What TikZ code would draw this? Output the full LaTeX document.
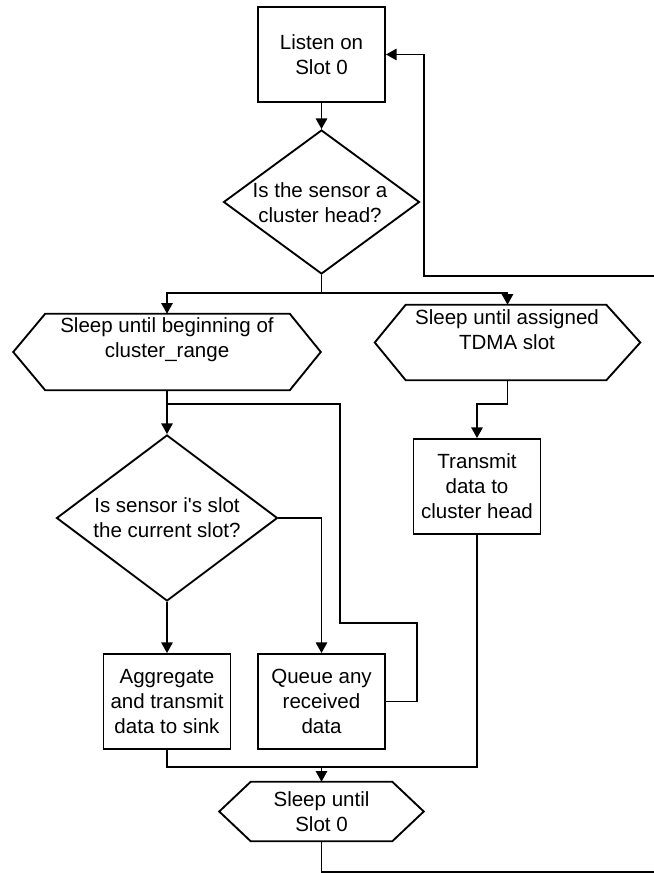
\documentclass[tikz,border=0pt]{standalone}
\usepackage{fontspec}
\setmainfont{Liberation Sans}[Ligatures=TeXOff]
\usetikzlibrary{shapes.geometric,arrows.meta,calc}
\begin{document}
\begin{tikzpicture}[x=0.75pt,y=-0.75pt,
  line/.style={line width=1.4pt},
  arr/.style={line width=1.4pt, -{Triangle[length=8pt,width=8.5pt]}},
  txt/.style={align=center, inner sep=0pt, font=\fontsize{15.4}{18.8}\selectfont},
  proc/.style={txt, draw, line width=1.4pt, rectangle, minimum width=127*0.75pt, minimum height=95*0.75pt},
  dec/.style={draw, line width=1.4pt, diamond, inner sep=0pt},
  hexbox/.style={rectangle, inner sep=0pt},
]
\useasboundingbox (0,0) rectangle (653,873);

% process boxes
\node[proc] (listen) at (321.5,54.5) {Listen on\\Slot 0};
\node[proc] (tx) at (477,486.5) {Transmit\\data to\\cluster head};
\node[proc] (agg) at (167,701.5) {Aggregate\\and transmit\\data to sink};
\node[proc] (queue) at (321.5,701.5) {Queue any\\received\\data};

% decisions
\node[dec, minimum width=196*0.75pt, minimum height=144*0.75pt] (d1) at (321.5,202) {};
\node[txt] (d1t) at (320,202.5) {Is the sensor a\\cluster head?};
\node[dec, minimum width=221*0.75pt, minimum height=166*0.75pt] (d2) at (167,518) {};
\node[txt] (d2t) at (167,518) {Is sensor i's slot\\the current slot?};

% hexagons
\node[hexbox, minimum width=307*0.75pt, minimum height=76*0.75pt] (hL) at (167,352) {};
\draw[line] (hL.west) -- ($(hL.north west)+(32,0)$) -- ($(hL.north east)+(-31,0)$) -- (hL.east)
  -- ($(hL.south east)+(-31,0)$) -- ($(hL.south west)+(32,0)$) -- cycle;
\node[txt] (hLt) at (167,339.5) {Sleep until beginning of\\cluster\_range};

\node[hexbox, minimum width=265*0.75pt, minimum height=75*0.75pt] (hR) at (507.5,342.5) {};
\draw[line] (hR.west) -- ($(hR.north west)+(31,0)$) -- ($(hR.north east)+(-34,0)$) -- (hR.east)
  -- ($(hR.south east)+(-34,0)$) -- ($(hR.south west)+(31,0)$) -- cycle;
\node[txt] (hRt) at (507,330) {Sleep until assigned\\TDMA slot};

\node[hexbox, minimum width=204*0.75pt, minimum height=59*0.75pt] (s0) at (321.5,811.5) {};
\draw[line] (s0.west) -- ($(s0.north west)+(31.5,0)$) -- ($(s0.north east)+(-31.5,0)$) -- (s0.east)
  -- ($(s0.south east)+(-31.5,0)$) -- ($(s0.south west)+(31.5,0)$) -- cycle;
\node[txt] (s0t) at (321.5,811.5) {Sleep until\\Slot 0};

% connectors
\coordinate (split) at (321.5,293.3);
\coordinate (jn) at (167,404);
\coordinate (q1) at (417,623);
\coordinate (q2) at (340,404);
\coordinate (r1) at (507.5,404);
\coordinate (m) at (321.5,767);
\coordinate (b1) at (662,872);
\coordinate (b2) at (662,276);
\coordinate (b3) at (424,276);

\draw[arr] (listen.south) -- (d1.north);
\draw[arr] (d1.south) -- (split) -| (hL.north);
\draw[arr] (split) -| (hR.north);
\draw[arr] (hL.south) -- (d2.north);
\draw[line] (queue.east) -| (q1) -| (q2) -- (jn);
\draw[arr] (d2.east) -| (queue.north);
\draw[arr] (d2.south) -- (agg.north);
\draw[arr] (hR.south) -- (r1) -| (tx.north);
\draw[line] (tx.south) |- (m);
\draw[line] (agg.south) |- (m);
\draw[arr] (m) -- (s0.north);
\draw[arr] (s0.south) |- (b1) -- (b2) -- (b3) |- (listen.east);
\end{tikzpicture}
\end{document}
